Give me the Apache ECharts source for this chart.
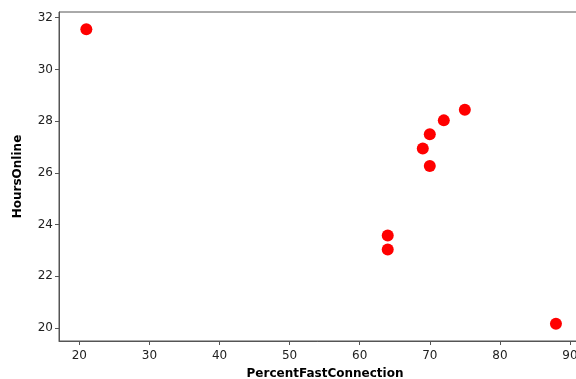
<!DOCTYPE html>
<html><head><meta charset="utf-8">
<script src="https://cdn.jsdelivr.net/npm/echarts@6/dist/echarts.min.js"></script>
<style>html,body{margin:0;padding:0;background:#fff}#c{width:576px;height:379px}</style>
</head><body><div id="c"></div>
<script>
const percentFast = [21, 64, 64, 69, 70, 70, 72, 75, 88];
const hoursOnline = [31.55, 23.58, 23.04, 26.94, 27.49, 26.27, 28.03, 28.44, 20.17];
const xTicks = [20, 30, 40, 50, 60, 70, 80, 90];
const yTicks = [20, 22, 24, 26, 28, 30, 32];

const chart = echarts.init(document.getElementById('c'));
const axisColor = '#555';
const labelStyle = {color: '#222', fontSize: 12, fontFamily: 'DejaVu Sans'};
chart.setOption({
  animation: false,
  grid: {left: 59, top: 12, width: 532, height: 329, outerBoundsMode: 'none', containLabel: false,
         show: true, borderColor: axisColor, borderWidth: 1, backgroundColor: '#fff'},
  xAxis: {
    type: 'value', min: 17.1, max: 93,
    name: 'PercentFastConnection', nameLocation: 'middle', nameGap: 27,
    nameTextStyle: {color: '#000', fontSize: 12, fontWeight: 'bold', fontFamily: 'DejaVu Sans', align: 'center'},
    axisLine: {show: true, lineStyle: {color: axisColor, width: 1}},
    axisTick: {show: true, length: 4, customValues: xTicks, lineStyle: {color: axisColor}},
    axisLabel: Object.assign({margin: 9, customValues: xTicks}, labelStyle),
    splitLine: {show: false}
  },
  yAxis: {
    type: 'value', min: 19.5, max: 32.22,
    name: 'HoursOnline', nameLocation: 'middle', nameGap: 35, nameRotate: 90,
    nameTextStyle: {color: '#000', fontSize: 12, fontWeight: 'bold', fontFamily: 'DejaVu Sans'},
    axisLine: {show: true, lineStyle: {color: axisColor, width: 1}},
    axisTick: {show: true, length: 4, customValues: yTicks, lineStyle: {color: axisColor}},
    axisLabel: Object.assign({margin: 6, customValues: yTicks}, labelStyle),
    splitLine: {show: false}
  },
  series: [{
    type: 'scatter',
    symbol: 'circle', symbolSize: 12,
    itemStyle: {color: '#ff0000', opacity: 1},
    data: percentFast.map((x, i) => [x, hoursOnline[i]])
  }]
});
</script></body></html>
